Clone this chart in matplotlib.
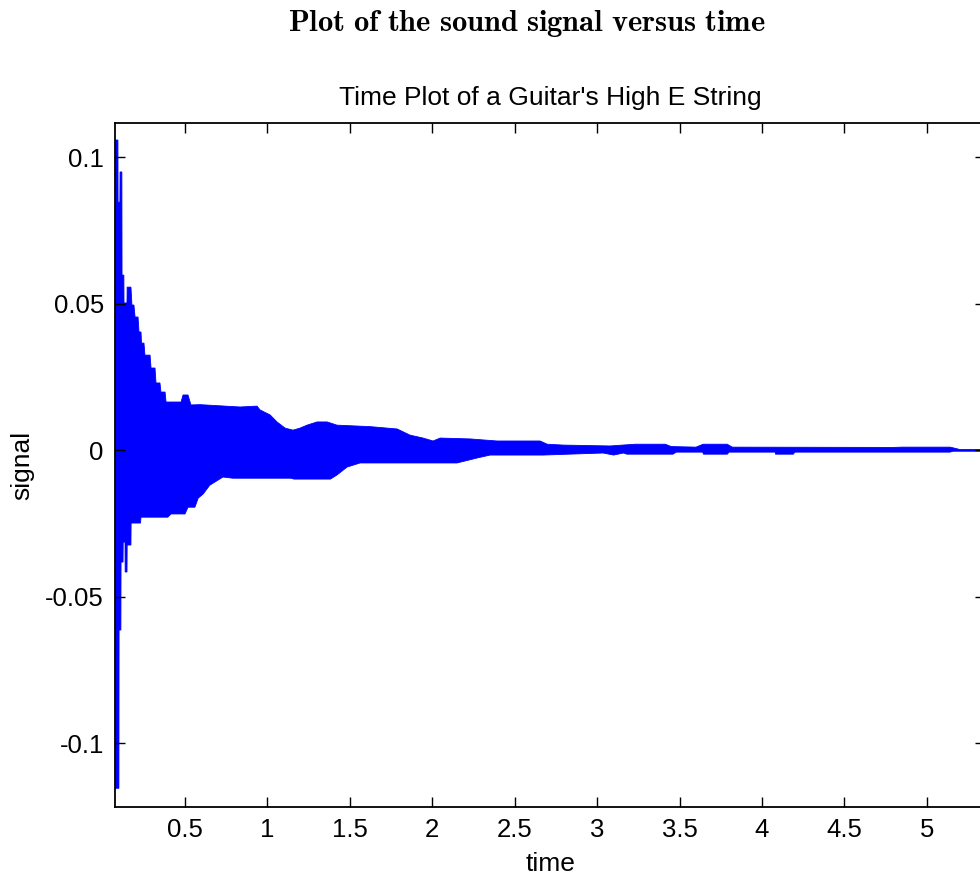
import numpy as np
import matplotlib
matplotlib.use('Agg')
import matplotlib.pyplot as plt

# upper envelope of the recorded signal (time in s, amplitude)
t_upper = [0.075, 0.093, 0.094, 0.105, 0.106, 0.117, 0.118, 0.129, 0.130, 0.148,
           0.149, 0.172, 0.178, 0.190, 0.197, 0.215, 0.221, 0.233, 0.236, 0.251,
           0.257, 0.288, 0.294, 0.318, 0.324, 0.348, 0.354, 0.379, 0.385, 0.476,
           0.488, 0.518, 0.536, 0.591, 0.834, 0.937, 0.955, 1.016, 1.058, 1.107,
           1.155, 1.198, 1.240, 1.301, 1.362, 1.422, 1.544, 1.623, 1.787, 1.865,
           1.944, 2.005, 2.048, 2.230, 2.393, 2.654, 2.697, 2.794, 3.079, 3.231,
           3.413, 3.450, 3.600, 3.643, 3.789, 3.820, 4.796, 4.850, 5.142, 5.200,
           5.360]
upper = [0.1058, 0.1058, 0.0846, 0.0846, 0.0949, 0.0949, 0.0597, 0.0597, 0.0502, 0.0502,
         0.0556, 0.0556, 0.0495, 0.0495, 0.0454, 0.0454, 0.0403, 0.0403, 0.0365, 0.0365,
         0.0324, 0.0324, 0.0280, 0.0280, 0.0229, 0.0229, 0.0198, 0.0198, 0.0164, 0.0164,
         0.0188, 0.0188, 0.0154, 0.0155, 0.0147, 0.0150, 0.0137, 0.0120, 0.0096, 0.0075,
         0.0068, 0.0075, 0.0085, 0.0096, 0.0096, 0.0085, 0.0082, 0.0080, 0.0072, 0.0051,
         0.0041, 0.0031, 0.0041, 0.0038, 0.0031, 0.0031, 0.0020, 0.0017, 0.0014, 0.0020,
         0.0020, 0.0012, 0.0010, 0.0020, 0.0020, 0.0010, 0.0009, 0.0010, 0.0010, 0.0002,
         0.0002]

# lower envelope
t_lower = [0.075, 0.099, 0.100, 0.111, 0.112, 0.124, 0.125, 0.136, 0.137, 0.148,
           0.149, 0.172, 0.173, 0.230, 0.233, 0.396, 0.415, 0.500, 0.518, 0.560,
           0.580, 0.610, 0.650, 0.730, 0.790, 1.140, 1.162, 1.382, 1.422, 1.483,
           1.562, 2.150, 2.272, 2.351, 2.672, 3.036, 3.100, 3.160, 3.180, 3.460,
           3.480, 3.640, 3.645, 3.790, 3.800, 4.080, 4.082, 4.190, 4.200, 5.140,
           5.160, 5.360]
lower = [-0.1154, -0.1154, -0.0614, -0.0614, -0.0382, -0.0382, -0.0314, -0.0314, -0.0416, -0.0416,
         -0.0324, -0.0324, -0.0249, -0.0249, -0.0229, -0.0229, -0.0218, -0.0218, -0.0195, -0.0195,
         -0.0164, -0.0150, -0.0120, -0.0092, -0.0096, -0.0096, -0.0099, -0.0099, -0.0085, -0.0058,
         -0.0044, -0.0044, -0.0027, -0.0017, -0.0017, -0.0010, -0.0017, -0.0010, -0.0014, -0.0014,
         -0.0007, -0.0007, -0.0014, -0.0014, -0.0007, -0.0007, -0.0014, -0.0014, -0.0007, -0.0007,
         -0.0004, -0.0004]

x_ticks = [0.5, 1, 1.5, 2, 2.5, 3, 3.5, 4, 4.5, 5]
x_labels = ['0.5', '1', '1.5', '2', '2.5', '3', '3.5', '4', '4.5', '5']
y_ticks = [-0.1, -0.05, 0, 0.05, 0.1]
y_labels = ['-0.1', '-0.05', '0', '0.05', '0.1']


def main():
    plt.rcParams['font.family'] = ['Liberation Sans', 'DejaVu Sans']
    plt.rcParams['mathtext.fontset'] = 'cm'

    fig = plt.figure(figsize=(9.8, 8.75), dpi=100)
    ax = fig.add_axes([0.1173, 0.0777, 0.888, 0.7817])

    # the signal, drawn as its filled envelope
    poly_x = list(t_upper) + list(t_lower[::-1])
    poly_y = list(upper) + list(lower[::-1])
    ax.fill(poly_x, poly_y, color='#0000ff', linewidth=0.6)

    ax.set_xlim(0.075, 5.354)
    ax.set_ylim(-0.1218, 0.1116)

    ax.set_xticks(x_ticks)
    ax.set_xticklabels(x_labels)
    ax.set_yticks(y_ticks)
    ax.set_yticklabels(y_labels)
    ax.tick_params(direction='in', length=7, width=1, top=True, right=True,
                   labelsize=18.5, colors='black', pad=8)
    for s in ax.spines.values():
        s.set_linewidth(1.3)

    ax.set_title("Time Plot of a Guitar's High E String", fontsize=19, pad=13)
    ax.set_xlabel('time', fontsize=19, labelpad=7)
    ax.set_ylabel('signal', fontsize=19, labelpad=8)

    fig.text(0.538, 0.973, r'$\mathbf{Plot\ of\ the\ sound\ signal\ versus\ time}$',
             ha='center', va='center', fontsize=22)

    fig.savefig('out.png', dpi=100)


if __name__ == '__main__':
    main()
